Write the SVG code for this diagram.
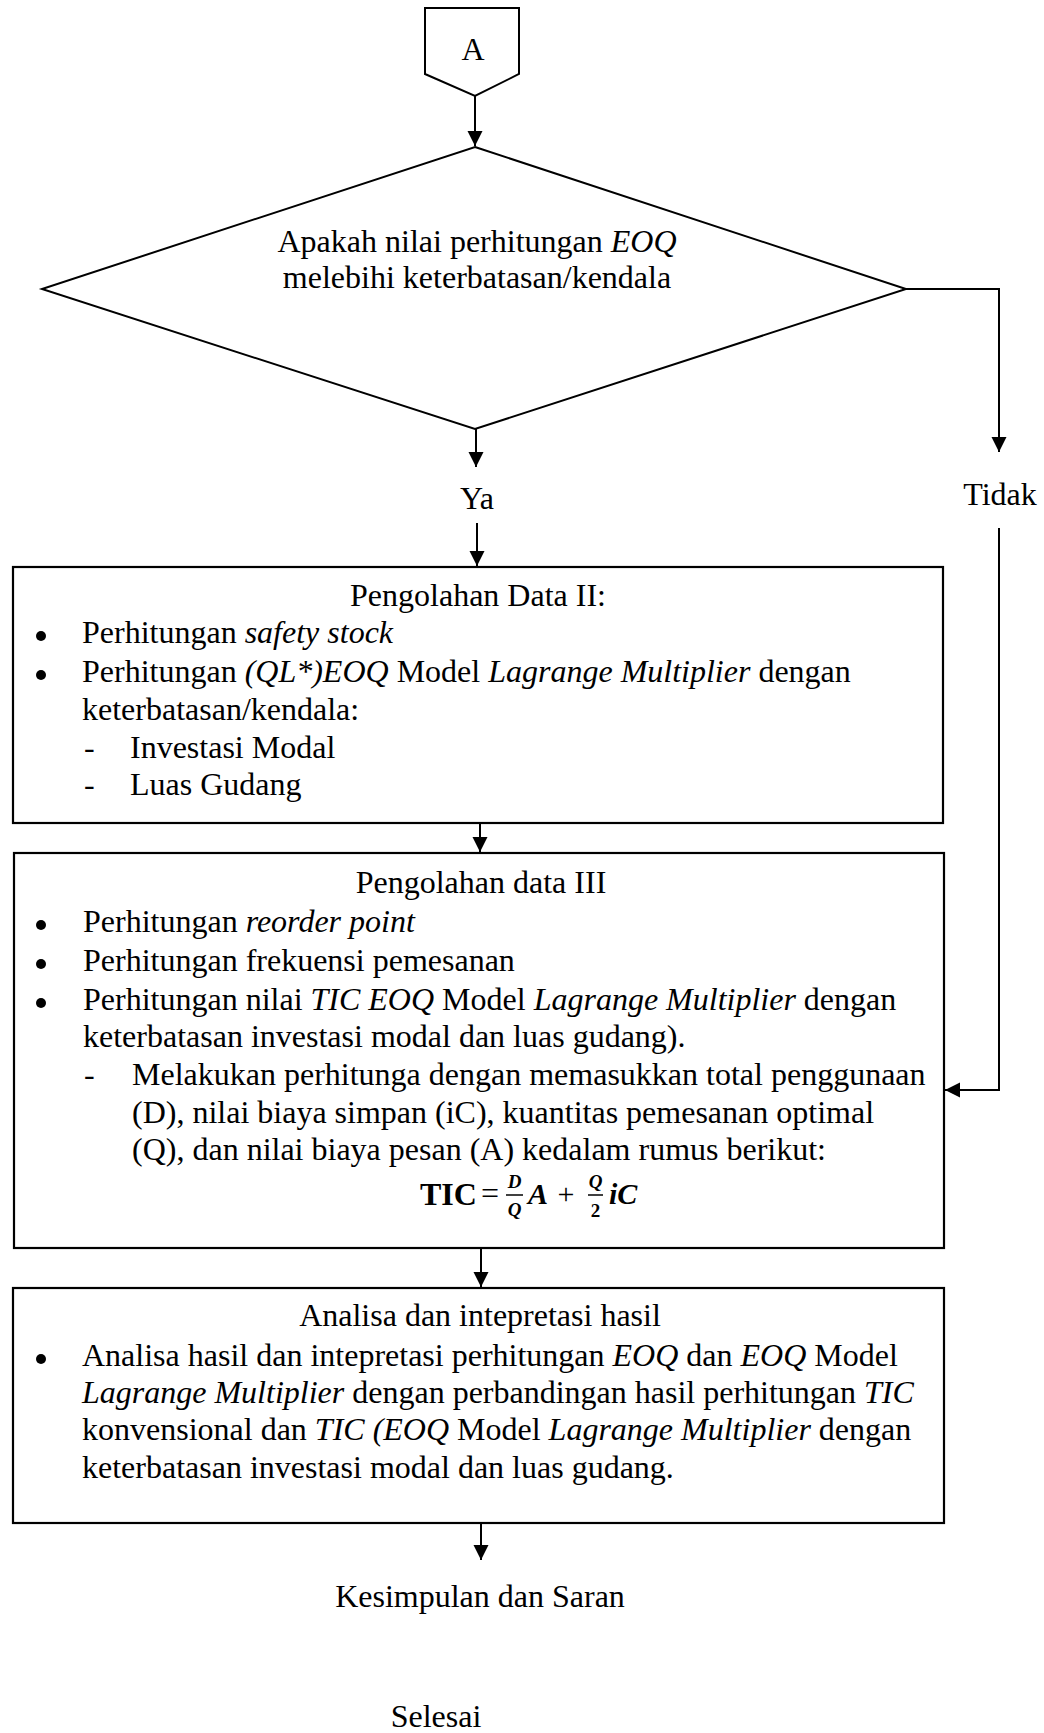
<svg xmlns="http://www.w3.org/2000/svg" width="1044" height="1733" viewBox="0 0 1044 1733">
<style>
  .t { font-family: "Liberation Serif", "Times New Roman", serif; font-size: 32px; fill: #000; }
  .c { text-anchor: middle; }
  .i { font-style: italic; }
  .bullet { fill: #000; stroke: none; }
  .shape { fill: #fff; stroke: #000; stroke-width: 2; }
  .box { fill: #fff; stroke: #000; stroke-width: 2.2; }
  .conn { fill: none; stroke: #000; stroke-width: 2; }
  .mb { font-family: "Liberation Serif", "Times New Roman", serif; font-weight: bold; font-style: italic; fill: #000; }
  .mr { font-family: "Liberation Serif", "Times New Roman", serif; fill: #000; }
  .s19 { font-size: 19px; text-anchor: middle; }
  .s30 { font-size: 30px; }
  .bar { stroke: #000; stroke-width: 1.5; }
</style>
<defs>
  <marker id="arr" markerUnits="userSpaceOnUse" markerWidth="16" markerHeight="16" refX="15" refY="7.5" orient="auto">
    <path d="M0,0 L15,7.5 L0,15 z" fill="#000"/>
  </marker>
</defs>

<g id="connectors">
  <line class="conn" x1="475" y1="96" x2="475" y2="146" marker-end="url(#arr)"/>
  <line class="conn" x1="476" y1="429" x2="476" y2="467" marker-end="url(#arr)"/>
  <line class="conn" x1="477" y1="523" x2="477" y2="566" marker-end="url(#arr)"/>
  <polyline class="conn" points="906,289 999,289 999,452" marker-end="url(#arr)"/>
  <polyline class="conn" points="999,528 999,1090 945,1090" marker-end="url(#arr)"/>
  <line class="conn" x1="480" y1="823" x2="480" y2="852" marker-end="url(#arr)"/>
  <line class="conn" x1="481" y1="1248" x2="481" y2="1287" marker-end="url(#arr)"/>
  <line class="conn" x1="481" y1="1523" x2="481" y2="1560" marker-end="url(#arr)"/>
</g>

<g id="labels">
  <text class="t c" x="477" y="509">Ya</text>
  <text class="t c" x="1000" y="505">Tidak</text>
</g>

<g id="start">
  <polygon class="shape" points="425,8 519,8 519,74 475,96 425,74"/>
  <text class="t c" x="473" y="60">A</text>
</g>

<g id="decision">
  <polygon class="shape" points="475,147 906,289 475,429 42,289"/>
  <text class="t c" x="477" y="252">Apakah nilai perhitungan <tspan class="i">EOQ</tspan></text>
  <text class="t c" x="477" y="288">melebihi keterbatasan/kendala</text>
</g>

<g id="pengolahan-data-2">
  <rect class="box" x="13" y="567" width="930" height="256"/>
  <text class="t c" x="478" y="606">Pengolahan Data II:</text>
  <circle class="bullet" cx="41" cy="636" r="5"/>
  <text class="t" x="82" y="643">Perhitungan <tspan class="i">safety stock</tspan></text>
  <circle class="bullet" cx="41" cy="675" r="5"/>
  <text class="t" x="82" y="682">Perhitungan <tspan class="i">(QL*)EOQ</tspan> Model <tspan class="i">Lagrange Multiplier</tspan> dengan</text>
  <text class="t" x="82" y="720">keterbatasan/kendala:</text>
  <text class="t" x="84" y="758">-</text>
  <text class="t" x="130" y="758">Investasi Modal</text>
  <text class="t" x="84" y="795">-</text>
  <text class="t" x="130" y="795">Luas Gudang</text>
</g>

<g id="pengolahan-data-3">
  <rect class="box" x="14" y="853" width="930" height="395"/>
  <text class="t c" x="481" y="893">Pengolahan data III</text>
  <circle class="bullet" cx="41" cy="925" r="5"/>
  <text class="t" x="83" y="932">Perhitungan <tspan class="i">reorder point</tspan></text>
  <circle class="bullet" cx="41" cy="964" r="5"/>
  <text class="t" x="83" y="971">Perhitungan frekuensi pemesanan</text>
  <circle class="bullet" cx="41" cy="1003" r="5"/>
  <text class="t" x="83" y="1010">Perhitungan nilai <tspan class="i">TIC EOQ</tspan> Model <tspan class="i">Lagrange Multiplier</tspan> dengan</text>
  <text class="t" x="83" y="1047">keterbatasan investasi modal dan luas gudang).</text>
  <text class="t" x="84" y="1085">-</text>
  <text class="t" x="132" y="1085">Melakukan perhitunga dengan memasukkan total penggunaan</text>
  <text class="t" x="132" y="1123">(D), nilai biaya simpan (iC), kuantitas pemesanan optimal</text>
  <text class="t" x="132" y="1160">(Q), dan nilai biaya pesan (A) kedalam rumus berikut:</text>
  <text class="t" x="420" y="1205" font-weight="bold">TIC</text>
  <text class="t" x="481" y="1204">=</text>
  <text class="mb s19" x="514.5" y="1188">D</text>
  <line class="bar" x1="506" y1="1195" x2="523" y2="1195"/>
  <text class="mb s19" x="514.5" y="1216">Q</text>
  <text class="mb s30" x="528" y="1204">A</text>
  <text class="mr s30" x="566" y="1204" text-anchor="middle">+</text>
  <text class="mb s19" x="595.5" y="1188">Q</text>
  <line class="bar" x1="588" y1="1195" x2="603" y2="1195"/>
  <text class="mr s19" x="595.5" y="1217" font-weight="bold">2</text>
  <text class="mb s30" x="609" y="1204">iC</text>
</g>

<g id="analisa">
  <rect class="box" x="13" y="1288" width="931" height="235"/>
  <text class="t c" x="480" y="1326">Analisa dan intepretasi hasil</text>
  <circle class="bullet" cx="41" cy="1359" r="5"/>
  <text class="t" x="82" y="1366">Analisa hasil dan intepretasi perhitungan <tspan class="i">EOQ</tspan> dan <tspan class="i">EOQ</tspan> Model</text>
  <text class="t" x="82" y="1403"><tspan class="i">Lagrange Multiplier</tspan> dengan perbandingan hasil perhitungan <tspan class="i">TIC</tspan></text>
  <text class="t" x="82" y="1440">konvensional dan <tspan class="i">TIC (EOQ</tspan> Model <tspan class="i">Lagrange Multiplier</tspan> dengan</text>
  <text class="t" x="82" y="1478">keterbatasan investasi modal dan luas gudang.</text>
</g>

<g id="kesimpulan">
  <text class="t c" x="480" y="1607">Kesimpulan dan Saran</text>
</g>

<g id="selesai">
  <text class="t c" x="436" y="1727">Selesai</text>
</g>
</svg>
